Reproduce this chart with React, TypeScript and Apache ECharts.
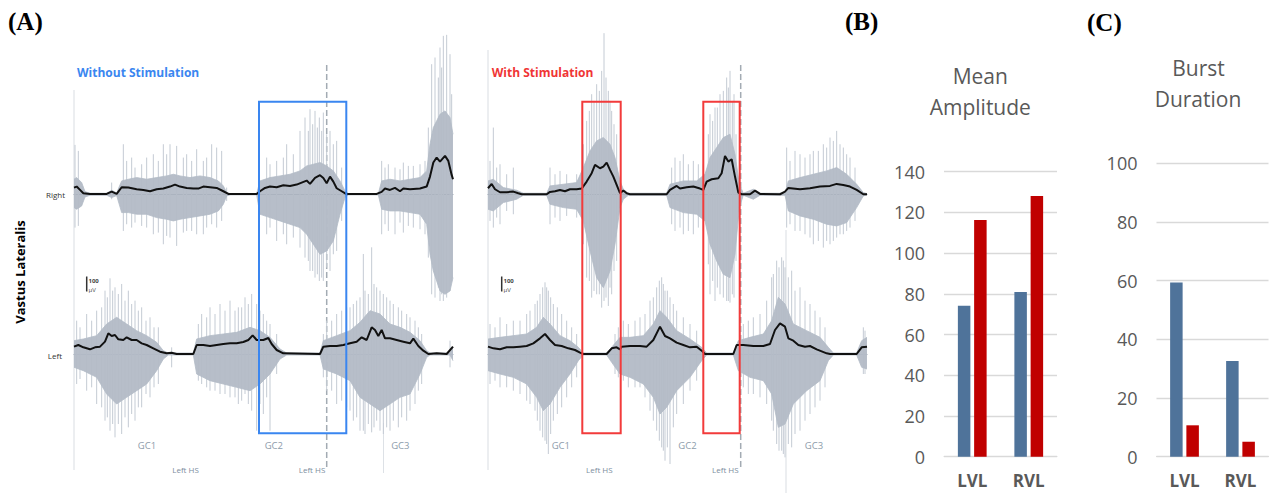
import React, { useEffect, useRef } from 'react';
import * as echarts from 'echarts';

// ---------- Panel A : EMG of vastus lateralis (sample index, amplitude in µV) ----------
// Envelopes [sample, µV]
const woRightEnv = [[12,40],[20,46],[30,26],[40,6],[60,2],[110,2],[125,16],[140,2],[155,42],[175,40],[200,30],[220,26],[240,18],[260,30],[280,34],[300,46],[315,58],[330,46],[350,38],[370,34],[385,34],[400,46],[420,42],[440,38],[460,18],[475,2],[560,2],[570,18],[585,38],[600,46],[620,42],[640,54],[660,50],[680,58],[695,70],[710,82],[720,62],[735,98],[750,114],[760,98],[770,66],[780,106],[790,76],[800,36],[815,18],[828,2],[920,2],[935,14],[945,34],[960,26],[975,38],[990,18],[1000,34],[1020,30],[1050,34],[1070,46],[1080,106],[1090,190],[1100,220],[1110,196],[1125,230],[1135,200],[1145,116],[1149,90]];
const woLeftEnv = [[12,44],[25,54],[40,40],[60,28],[75,40],[90,44],[105,74],[115,124],[125,108],[135,114],[145,88],[160,84],[170,100],[185,84],[200,84],[215,64],[230,54],[250,34],[270,14],[290,4],[305,8],[320,0],[370,0],[380,54],[400,54],[420,48],[440,54],[460,60],[480,64],[500,64],[520,72],[535,84],[548,112],[560,84],[580,84],[595,96],[605,60],[620,24],[640,4],[750,0],[760,44],[780,48],[800,48],[820,54],[840,64],[860,74],[875,100],[890,84],[905,160],[915,144],[925,108],[935,144],[945,94],[960,94],[980,84],[1000,74],[1020,64],[1030,92],[1045,48],[1060,20],[1075,0],[1100,4],[1130,0],[1149,44]];
const wRightEnv = [[24,36],[35,62],[45,30],[60,12],[80,12],[100,16],[115,6],[125,0],[200,0],[210,14],[225,18],[240,26],[255,18],[270,30],[290,30],[305,34],[320,76],[335,126],[345,176],[360,156],[370,166],[380,190],[390,146],[400,106],[410,56],[420,6],[430,22],[440,6],[450,0],[560,0],[570,26],[590,50],[600,34],[620,42],[640,46],[660,34],[670,26],[680,76],[695,90],[715,96],[725,126],[735,230],[745,196],[755,210],[765,106],[775,10],[785,0],[810,0],[825,22],[840,2],[900,0],[915,16],[925,38],[960,30],[990,36],[1020,46],[1050,50],[1070,62],[1090,56],[1110,46],[1130,26],[1150,0],[1161,0]];
const wLeftEnv = [[24,44],[40,34],[60,28],[80,40],[100,40],[120,44],[140,48],[160,64],[180,94],[195,120],[210,84],[225,54],[245,48],[265,34],[285,24],[300,8],[310,0],[380,0],[395,34],[410,40],[420,28],[425,44],[450,48],[480,48],[500,44],[520,84],[540,164],[555,108],[570,94],[590,68],[610,54],[630,40],[650,44],[665,20],[675,0],[760,0],[770,54],[790,54],[820,48],[850,48],[870,60],[885,144],[900,184],[915,164],[925,94],[940,80],[955,54],[975,44],[990,48],[1010,28],[1040,4],[1050,0],[1130,0],[1145,40],[1161,44]];

// Raw-signal dense core [sample, up µV, down µV]
const woRightBand = [[12,90,80],[20,100,90],[35,70,70],[45,16,16],[60,6,6],[110,6,6],[125,24,20],[140,8,8],[155,80,110],[175,90,110],[200,100,120],[230,90,120],[260,100,140],[290,110,150],[310,120,160],[330,110,150],[360,100,140],[390,110,130],[420,100,120],[445,80,100],[460,50,60],[470,10,10],[480,4,4],[560,4,4],[570,80,120],[600,100,140],[630,110,160],[660,120,180],[690,140,200],[710,170,240],[730,180,300],[750,190,360],[770,170,340],[790,140,280],[810,80,120],[825,20,20],[835,4,4],[925,4,4],[935,80,90],[960,90,100],[990,80,100],[1020,90,110],[1050,100,120],[1070,140,180],[1080,300,360],[1090,400,460],[1100,440,520],[1110,480,580],[1125,500,600],[1140,460,580],[1149,360,500]];
const woLeftBand = [[12,80,80],[40,90,100],[80,110,140],[110,180,240],[140,220,300],[170,180,260],[200,140,220],[230,110,180],[260,70,100],[280,20,30],[295,6,6],[370,6,6],[380,90,120],[420,110,160],[460,120,180],[500,130,200],[540,160,220],[570,140,180],[600,100,120],[630,30,30],[650,6,6],[750,6,6],[760,80,90],[800,110,120],[840,140,160],[870,190,260],[900,260,300],[930,240,340],[960,180,300],[990,160,260],[1020,130,240],[1050,80,120],[1070,20,20],[1080,6,6],[1140,6,6],[1149,40,40]];
const wRightBand = [[24,80,90],[40,90,100],[70,40,50],[110,24,30],[130,6,6],[200,6,6],[210,50,60],[250,60,80],[290,70,90],[310,160,160],[330,260,340],[350,320,500],[370,340,560],[390,300,460],[405,220,300],[420,80,80],[430,30,30],[445,6,6],[560,6,6],[570,60,80],[610,80,110],[650,80,120],[675,120,160],[690,220,300],[710,280,400],[730,340,480],[750,360,500],[765,240,360],[778,60,80],[790,6,6],[820,30,30],[840,6,6],[915,6,6],[925,80,100],[960,100,130],[1000,120,150],[1040,140,180],[1070,160,190],[1100,120,170],[1130,60,80],[1150,10,10],[1161,4,4]];
const wLeftBand = [[24,90,100],[60,100,120],[100,110,140],[140,120,180],[170,160,260],[190,220,340],[210,180,300],[240,110,200],[270,80,120],[295,40,40],[310,6,6],[380,6,6],[395,40,50],[420,100,120],[450,100,140],[490,110,180],[520,180,260],[540,260,360],[560,220,320],[590,140,220],[630,90,140],[665,40,40],[680,6,6],[760,6,6],[775,80,100],[810,100,140],[850,120,160],[875,200,240],[895,340,440],[915,300,420],[940,180,300],[980,140,220],[1020,100,160],[1045,40,40],[1060,6,6],[1130,6,6],[1145,80,80],[1161,100,90]];

// Isolated raw spikes [sample, up µV, down µV]
const woRightSpikes = [[15,296,200],[25,260,190],[125,70,30],[160,300,220],[170,200,180],[185,220,200],[195,160,170],[215,180,190],[230,220,200],[250,240,240],[265,200,230],[280,300,300],[290,240,250],[300,300,260],[320,290,310],[340,220,230],[350,240,220],[365,200,220],[380,270,240],[400,200,240],[410,220,200],[425,300,180],[440,280,200],[455,260,160],[470,40,40],[590,220,240],[600,180,200],[620,200,280],[640,220,240],[650,300,300],[670,240,260],[690,380,320],[705,460,380],[715,380,400],[720,510,460],[728,420,460],[735,500,500],[742,400,480],[748,460,520],[755,380,500],[760,490,520],[770,360,440],[780,380,460],[790,300,360],[800,320,340],[815,160,160],[935,200,240],[945,160,180],[955,180,220],[975,160,240],[990,150,170],[1000,190,230],[1015,170,190],[1030,170,200],[1050,180,210],[1065,200,240],[1075,400,380],[1085,780,600],[1095,820,620],[1105,700,560],[1110,880,640],[1115,760,600],[1120,950,640],[1130,956,620],[1140,840,580],[1145,600,520]];
const woLeftSpikes = [[20,200,180],[30,160,150],[50,240,220],[65,200,200],[80,260,300],[95,280,320],[105,380,400],[112,340,380],[120,454,460],[128,380,420],[135,400,500],[145,360,420],[155,420,480],[165,320,380],[175,380,440],[185,300,360],[195,320,400],[205,260,320],[215,280,320],[228,200,240],[240,220,260],[252,160,200],[265,160,180],[305,40,80],[385,180,160],[395,240,180],[410,220,200],[420,280,220],[435,240,220],[450,300,240],[465,260,240],[480,320,260],[495,260,260],[505,280,300],[515,280,280],[525,340,240],[535,300,300],[545,360,340],[560,300,460],[570,260,300],[580,240,360],[590,200,260],[600,180,460],[620,120,120],[760,120,140],[770,200,220],[785,200,220],[800,240,300],[815,260,280],[830,280,320],[840,280,340],[850,300,400],[860,320,380],[870,340,460],[880,600,460],[885,380,480],[895,360,420],[905,640,470],[912,420,440],[920,400,400],[930,380,460],[940,360,480],[950,340,440],[960,320,460],[970,300,400],[985,280,440],[995,260,380],[1010,240,400],[1020,220,340],[1035,200,300],[1045,160,220],[1055,120,180],[1140,80,80]];
const wRightSpikes = [[30,200,160],[40,400,200],[50,160,140],[60,180,180],[80,120,100],[100,160,120],[210,160,180],[225,120,140],[240,140,160],[260,120,130],[290,120,140],[310,300,300],[320,440,500],[328,500,520],[335,600,620],[342,560,580],[350,660,600],[358,620,600],[365,740,680],[372,966,640],[378,700,620],[385,620,670],[390,560,560],[395,500,600],[402,420,460],[410,360,400],[575,160,180],[585,220,220],[600,200,200],[610,240,240],[625,180,220],[640,200,240],[655,180,200],[670,180,220],[685,360,420],[690,480,600],[698,440,520],[705,520,640],[712,520,560],[720,600,600],[730,620,620],[740,700,640],[745,640,640],[750,740,650],[757,560,600],[762,600,620],[768,360,400],[920,280,200],[930,200,180],[945,260,220],[960,240,220],[975,220,240],[990,240,260],[1000,260,300],[1015,260,280],[1030,300,320],[1040,280,280],[1050,340,300],[1060,320,280],[1070,380,260],[1080,300,240],[1090,280,240],[1100,240,220],[1110,220,200],[1125,160,160]];
const wLeftSpikes = [[30,180,180],[45,160,160],[60,220,200],[80,180,200],[100,200,220],[120,200,240],[140,240,280],[150,260,300],[165,300,340],[172,320,400],[180,360,460],[188,400,500],[195,430,520],[200,400,540],[205,380,600],[212,340,480],[220,300,400],[232,280,360],[245,240,320],[260,200,260],[275,160,200],[290,120,140],[405,120,120],[415,160,140],[430,200,160],[445,180,200],[465,200,200],[480,220,200],[495,240,260],[510,320,340],[520,340,400],[530,400,460],[538,440,520],[545,460,560],[550,420,580],[555,380,640],[562,380,560],[570,340,660],[580,300,440],[590,260,360],[610,220,300],[630,180,220],[650,140,160],[780,200,220],[790,180,200],[805,200,240],[820,220,240],[840,240,260],[860,320,300],[875,460,400],[880,480,460],[890,560,540],[897,520,580],[905,580,580],[910,560,600],[915,520,620],[925,460,540],[935,500,560],[945,380,480],[960,400,460],[975,320,400],[990,300,360],[1005,260,320],[1020,220,280],[1035,160,200],[1150,160,120],[1155,140,120]];

const woRange = [12, 1149];
const wRange = [24, 1161];
const rightAmpRange = 1000;
const leftAmpRange = 700;

// ---------- Panels B & C ----------
const barCategories = ['LVL', 'RVL'];
const ampWithout = [74.2, 80.9];
const ampWith = [116.3, 128.1];
const durWithout = [59.4, 32.6];
const durWith = [10.7, 5.1];
const ampAxis = [0, 140, 20];
const durAxis = [0, 100, 20];

const FONT = '"Open Sans", sans-serif';
const CORE = '#b3bbc6';
const SPIKE = '#c4cbd4';
const BLUE_BAR = '#4f739a';
const RED_BAR = '#c00000';
const GREY_TXT = '#595959';

function traceSeries(i: number, band: number[][], spikes: number[][], env: number[][]) {
  return [
    {
      type: 'custom', xAxisIndex: i, yAxisIndex: i, z: 1, silent: true,
      data: spikes,
      renderItem: (_p: any, api: any) => {
        const x = api.value(0);
        const a = api.coord([x, api.value(1)]);
        const b = api.coord([x, -api.value(2)]);
        return { type: 'line', shape: { x1: a[0], y1: a[1], x2: b[0], y2: b[1] }, style: { stroke: SPIKE, lineWidth: 1 } };
      },
    },
    {
      type: 'line', xAxisIndex: i, yAxisIndex: i, z: 2, symbol: 'none', silent: true,
      data: band.map((r) => [r[0], r[1]]),
      lineStyle: { width: 0.8, color: CORE }, areaStyle: { color: CORE, opacity: 0.95 },
    },
    {
      type: 'line', xAxisIndex: i, yAxisIndex: i, z: 2, symbol: 'none', silent: true,
      data: band.map((r) => [r[0], -r[2]]),
      lineStyle: { width: 0.8, color: CORE }, areaStyle: { color: CORE, opacity: 0.95 },
    },
    {
      type: 'line', xAxisIndex: i, yAxisIndex: i, z: 4, symbol: 'none', silent: true,
      data: env, lineStyle: { width: 2, color: '#111' },
    },
  ];
}

function txt(x: number, y: number, text: string, font: string, fill: string, align = 'left', extra: any = {}) {
  return {
    type: 'text', x, y, silent: true, ...extra,
    style: { text, font, fill, align, verticalAlign: 'middle', textAlign: align, textVerticalAlign: 'middle' },
  };
}
function vline(x: number, y1: number, y2: number, stroke: string, width = 1, dash?: number[]) {
  return { type: 'line', silent: true, shape: { x1: x, y1, x2: x, y2 }, style: { stroke, lineWidth: width, lineDash: dash } };
}
function box(x: number, y: number, w: number, h: number, stroke: string) {
  return { type: 'rect', silent: true, z: 10, shape: { x, y, width: w, height: h }, style: { fill: 'none', stroke, lineWidth: 2 } };
}

export default function App() {
  const ref = useRef<HTMLDivElement>(null);
  useEffect(() => {
    if (!ref.current) return;
    const chart = echarts.init(ref.current, undefined, { renderer: 'svg' });

    const traceGrids = [
      { left: 74, top: 27.5, width: 379, height: 333.5 },
      { left: 74, top: 237.3, width: 379, height: 233.4 },
      { left: 488, top: 27.5, width: 379, height: 333.5 },
      { left: 488, top: 237.3, width: 379, height: 233.4 },
    ];
    const ranges = [woRange, woRange, wRange, wRange];
    const amps = [rightAmpRange, leftAmpRange, rightAmpRange, leftAmpRange];

    const xAxes: any[] = ranges.map((r, i) => ({
      type: 'value', gridIndex: i, min: r[0], max: r[1],
      axisLabel: { show: false }, axisTick: { show: false }, splitLine: { show: false },
      axisLine: { show: true, onZero: true, lineStyle: { color: '#8e9aa7', width: 1 } },
    }));
    const yAxes: any[] = amps.map((a, i) => ({
      type: 'value', gridIndex: i, min: -a, max: a, show: false, splitLine: { show: false },
    }));

    const catAxis = (gi: number) => ({
      type: 'category', gridIndex: gi, data: barCategories,
      axisLine: { show: true, lineStyle: { color: '#d9d9d9', width: 1 } },
      axisTick: { show: false },
      axisLabel: { fontFamily: FONT, fontSize: 17, fontWeight: 'bold', color: GREY_TXT, margin: 15, lineHeight: 18 },
    });
    const valAxis = (gi: number, ax: number[]) => ({
      type: 'value', gridIndex: gi, min: ax[0], max: ax[1], interval: ax[2],
      axisLine: { show: false }, axisTick: { show: false },
      axisLabel: { fontFamily: FONT, fontSize: 18, color: GREY_TXT, margin: 19 },
      splitLine: { lineStyle: { color: '#d9d9d9', width: 1.3 } },
    });
    xAxes.push(catAxis(4), catAxis(5));
    yAxes.push(valAxis(4, ampAxis), valAxis(5, durAxis));

    const bar = (gi: number, data: number[], color: string) => ({
      type: 'bar', xAxisIndex: gi, yAxisIndex: gi, data, barWidth: 12.5, barGap: '30%',
      itemStyle: { color }, silent: true,
    });

    const series: any[] = [
      ...traceSeries(0, woRightBand, woRightSpikes, woRightEnv),
      ...traceSeries(1, woLeftBand, woLeftSpikes, woLeftEnv),
      ...traceSeries(2, wRightBand, wRightSpikes, wRightEnv),
      ...traceSeries(3, wLeftBand, wLeftSpikes, wLeftEnv),
      bar(4, ampWithout, BLUE_BAR), bar(4, ampWith, RED_BAR),
      bar(5, durWithout, BLUE_BAR), bar(5, durWith, RED_BAR),
    ];

    const serif = 'bold 25px "Liberation Serif", "Times New Roman", serif';
    const graphic: any[] = [
      vline(74, 90, 470, '#d9dde2'),
      vline(383.5, 423, 473, '#dde1e6'),
      vline(488, 50, 470, '#d9dde2'),
      vline(786, 230, 493, '#d9dde2'),
      vline(326.7, 65, 470, '#a3abb3', 1.5, [6, 3]),
      vline(740.7, 65, 470, '#a3abb3', 1.5, [6, 3]),
      box(259, 101.7, 87.3, 331.6, '#3a86f0'),
      box(582.3, 101.7, 38.4, 331.6, '#f23b3b'),
      box(703.3, 101.7, 36.4, 331.6, '#f23b3b'),
      vline(86.7, 276.5, 291.5, '#333', 1.5),
      vline(501.7, 276.5, 291.5, '#333', 1.5),
      txt(88.5, 280.5, '100', 'bold 6px ' + FONT, '#444'),
      txt(88.5, 289.5, 'µV', '6px ' + FONT, '#444'),
      txt(503.5, 280.5, '100', 'bold 6px ' + FONT, '#444'),
      txt(503.5, 289.5, 'µV', '6px ' + FONT, '#444'),
      txt(8, 21, '(A)', serif, '#000'),
      txt(845, 21, '(B)', serif, '#000'),
      txt(1087, 22, '(C)', serif, '#000'),
      txt(77, 72, 'Without Stimulation', 'bold 12px ' + FONT, '#3a86f0'),
      txt(491.7, 72, 'With Stimulation', 'bold 12px ' + FONT, '#f03535'),
      txt(65, 194.5, 'Right', '8px ' + FONT, '#333', 'right'),
      txt(62, 355, 'Left', '8px ' + FONT, '#333', 'right'),
      txt(20, 272, 'Vastus Lateralis', 'bold 13px ' + FONT, '#000', 'center', { rotation: Math.PI / 2 }),
      txt(147, 445, 'GC1', '9.5px ' + FONT, '#8d9cab', 'center'),
      txt(273.8, 445, 'GC2', '9.5px ' + FONT, '#8d9cab', 'center'),
      txt(400.3, 445, 'GC3', '9.5px ' + FONT, '#8d9cab', 'center'),
      txt(560.8, 445, 'GC1', '9.5px ' + FONT, '#8d9cab', 'center'),
      txt(687.5, 445, 'GC2', '9.5px ' + FONT, '#8d9cab', 'center'),
      txt(814, 445, 'GC3', '9.5px ' + FONT, '#8d9cab', 'center'),
      txt(185.5, 469.5, 'Left HS', '8px ' + FONT, '#7d8ea0', 'center'),
      txt(312, 469.5, 'Left HS', '8px ' + FONT, '#7d8ea0', 'center'),
      txt(599.3, 469.5, 'Left HS', '8px ' + FONT, '#7d8ea0', 'center'),
      txt(725.3, 469.5, 'Left HS', '8px ' + FONT, '#7d8ea0', 'center'),
      txt(980.3, 76, 'Mean', '21px ' + FONT, GREY_TXT, 'center'),
      txt(980.3, 106.7, 'Amplitude', '21px ' + FONT, GREY_TXT, 'center'),
      txt(1198.5, 68.3, 'Burst', '21px ' + FONT, GREY_TXT, 'center'),
      txt(1198, 99, 'Duration', '21px ' + FONT, GREY_TXT, 'center'),
    ];

    chart.setOption({
      animation: false,
      backgroundColor: '#fff',
      grid: [
        ...traceGrids,
        { left: 944, top: 171.7, width: 113, height: 285 },
        { left: 1156.5, top: 163.3, width: 112, height: 293.4 },
      ],
      xAxis: xAxes,
      yAxis: yAxes,
      series,
      graphic,
    });
    return () => chart.dispose();
  }, []);
  return <div ref={ref} style={{ position: 'fixed', left: 0, top: 0, width: 1274, height: 495, background: '#fff' }} />;
}
